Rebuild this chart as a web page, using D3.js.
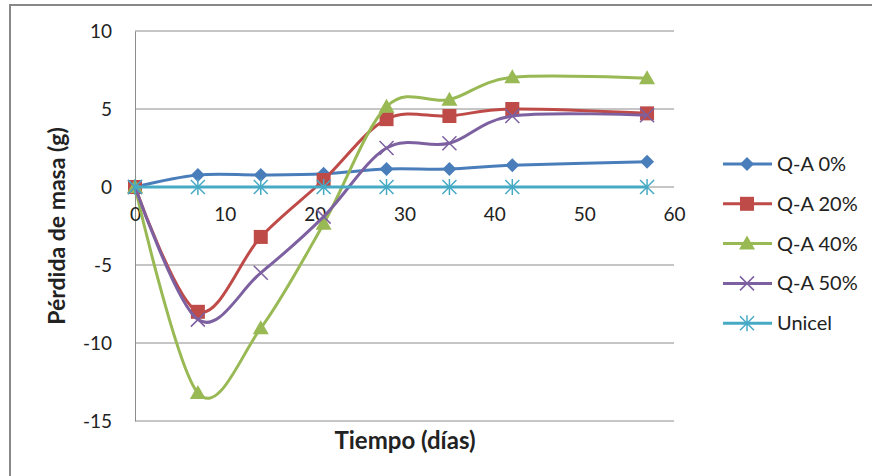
<!DOCTYPE html>
<html>
<head>
<meta charset="utf-8">
<script src="https://cdn.jsdelivr.net/npm/d3@7"></script>
<style>
  body { margin: 0; background: #fff; }
  svg { font-family: Lato, "Open Sans", sans-serif; }
</style>
</head>
<body>
<svg width="872" height="476"></svg>
<script>
// data
var days = [0, 7, 14, 21, 28, 35, 42, 57];
var seriesNames = ["Q-A 0%", "Q-A 20%", "Q-A 40%", "Q-A 50%", "Unicel"];
var qa0  = [0, 0.77, 0.77, 0.85, 1.15, 1.15, 1.4, 1.62];
var qa20 = [0, -8.0, -3.2, 0.45, 4.35, 4.55, 5.0, 4.72];
var qa40 = [0, -13.2, -9.05, -2.35, 5.15, 5.6, 7.03, 6.97];
var qa50 = [0, -8.5, -5.5, -1.9, 2.5, 2.8, 4.55, 4.6];
var unicel = [0, 0, 0, 0, 0, 0, 0, 0];
var yTicks = [10, 5, 0, -5, -10, -15];
var xTicks = [0, 10, 20, 30, 40, 50, 60];

var colors = ["#4a7ebb", "#be4b48", "#98b954", "#7d60a0", "#46aac5"];
var shapes = ["diamond", "square", "triangle", "x", "star"];
var allSeries = [qa0, qa20, qa40, qa50, unicel];

var svg = d3.select("svg");

// outer chart border (only top/left visible)
svg.append("rect")
    .attr("x", 10).attr("y", 5)
    .attr("width", 900).attr("height", 500)
    .attr("fill", "none").attr("stroke", "#888").attr("stroke-width", 2);

var x = d3.scaleLinear().domain([0, 60]).range([135, 674]);
var y = d3.scaleLinear().domain([-15, 10]).range([421, 31]);

// gridlines
svg.append("g").selectAll("line")
    .data(yTicks)
    .enter().append("line")
    .attr("x1", x(0)).attr("x2", x(60))
    .attr("y1", function(d) { return y(d); })
    .attr("y2", function(d) { return y(d); })
    .attr("stroke", "#8c8c8c").attr("stroke-width", 1);

var plain = function(d) { return String(d); }; // hyphen minus like excel

// y axis
var yAxis = svg.append("g")
    .attr("transform", "translate(" + x(0) + ",0)")
    .call(d3.axisLeft(y).tickValues(yTicks).tickFormat(plain).tickSize(0).tickPadding(23));
yAxis.select(".domain").attr("stroke", "#8c8c8c");
yAxis.selectAll("text").attr("font-size", 19).attr("fill", "#222")
    .attr("font-family", "Lato, sans-serif");

// x axis at zero
var xAxis = svg.append("g")
    .attr("transform", "translate(0," + y(0) + ")")
    .call(d3.axisBottom(x).tickValues(xTicks).tickFormat(plain).tickSize(0).tickPadding(21));
xAxis.select(".domain").remove();
xAxis.selectAll("text").attr("font-size", 19).attr("fill", "#222")
    .attr("font-family", "Lato, sans-serif");

// axis titles
svg.append("text")
    .attr("x", 405).attr("y", 449)
    .attr("text-anchor", "middle")
    .attr("font-size", 24).attr("font-weight", "bold").attr("fill", "#222")
    .text("Tiempo (días)");
svg.append("text")
    .attr("transform", "translate(65,226) rotate(-90)")
    .attr("text-anchor", "middle")
    .attr("font-size", 23).attr("font-weight", "bold").attr("fill", "#222")
    .text("Pérdida de masa (g)");

var line = d3.line()
    .x(function(d, i) { return x(days[i]); })
    .y(function(d) { return y(d); })
    .curve(d3.curveCardinal.tension(0));

function marker(g, shape, color, cx, cy) {
    if (shape == "diamond") {
        g.append("path").attr("d", "M" + cx + "," + (cy - 7) + "L" + (cx + 7) + "," + cy + "L" + cx + "," + (cy + 7) + "L" + (cx - 7) + "," + cy + "Z")
            .attr("fill", color);
    } else if (shape == "square") {
        g.append("rect").attr("x", cx - 7).attr("y", cy - 7).attr("width", 14).attr("height", 14)
            .attr("fill", color);
    } else if (shape == "triangle") {
        g.append("path").attr("d", "M" + cx + "," + (cy - 8) + "L" + (cx + 8) + "," + (cy + 6) + "L" + (cx - 8) + "," + (cy + 6) + "Z")
            .attr("fill", color);
    } else if (shape == "x") {
        g.append("path").attr("d", "M" + (cx - 7) + "," + (cy - 7) + "L" + (cx + 7) + "," + (cy + 7) + "M" + (cx + 7) + "," + (cy - 7) + "L" + (cx - 7) + "," + (cy + 7))
            .attr("stroke", color).attr("stroke-width", 1.5);
    } else {
        g.append("path").attr("d", "M" + (cx - 7) + "," + (cy - 7) + "L" + (cx + 7) + "," + (cy + 7) + "M" + (cx + 7) + "," + (cy - 7) + "L" + (cx - 7) + "," + (cy + 7) + "M" + cx + "," + (cy - 8) + "L" + cx + "," + (cy + 8))
            .attr("stroke", color).attr("stroke-width", 1.5);
    }
}

// series
allSeries.forEach(function(vals, s) {
    var g = svg.append("g");
    g.append("path")
        .datum(vals)
        .attr("d", line)
        .attr("fill", "none")
        .attr("stroke", colors[s])
        .attr("stroke-width", 3);
    vals.forEach(function(v, i) {
        marker(g, shapes[s], colors[s], x(days[i]), y(v));
    });
});

// legend
var legend = svg.append("g");
seriesNames.forEach(function(name, s) {
    var ly = 164 + s * 39.8;
    legend.append("line")
        .attr("x1", 723).attr("x2", 772).attr("y1", ly).attr("y2", ly)
        .attr("stroke", colors[s]).attr("stroke-width", 3);
    marker(legend, shapes[s], colors[s], 747, ly);
    legend.append("text")
        .attr("x", 777).attr("y", ly + 7)
        .attr("font-size", 20).attr("fill", "#222")
        .text(name);
});
</script>
</body>
</html>
